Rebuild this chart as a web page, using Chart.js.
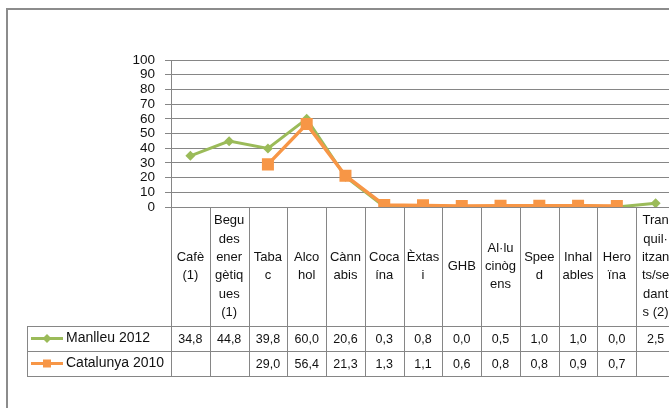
<!DOCTYPE html>
<html>
<head>
<meta charset="utf-8">
<script src="https://cdn.jsdelivr.net/npm/chart.js@4"></script>
<style>
  html, body { margin: 0; padding: 0; background: #fff; overflow: hidden; }
  #wrap { position: relative; width: 669px; height: 408px; overflow: hidden; }
  canvas { position: absolute; left: 0; top: 0; }
</style>
</head>
<body>
<div id="wrap"><canvas id="myChart" width="720" height="408"></canvas></div>
<script>
// category labels, already wrapped like in the table header
const categories = [
    ['Cafè', '(1)'],
    ['Begu', 'des', 'ener', 'gètiq', 'ues', '(1)'],
    ['Taba', 'c'],
    ['Alco', 'hol'],
    ['Cànn', 'abis'],
    ['Coca', 'ína'],
    ['Èxtas', 'i'],
    ['GHB'],
    ['Al·lu', 'cinòg', 'ens'],
    ['Spee', 'd'],
    ['Inhal', 'ables'],
    ['Hero', 'ïna'],
    ['Tran', 'quil·', 'itzan', 'ts/se', 'dant', 's (2)']
];
const manlleu2012 = [34.8, 44.8, 39.8, 60.0, 20.6, 0.3, 0.8, 0.0, 0.5, 1.0, 1.0, 0.0, 2.5];
const catalunya2010 = [null, null, 29.0, 56.4, 21.3, 1.3, 1.1, 0.6, 0.8, 0.8, 0.9, 0.7, null];
const yTicks = [0, 10, 20, 30, 40, 50, 60, 70, 80, 90, 100];

const seriesNames = ['Manlleu 2012', 'Catalunya 2010'];
const green = '#9BBB59';
const orange = '#F79646';
const gridGray = '#868686';
const FONT = '"Liberation Sans", Arial, sans-serif';

function fmt(v) {
    return v === null ? '' : v.toFixed(1).replace('.', ',');
}

// draws the outer frame + the data table under the plot
const tablePlugin = {
    id: 'dataTable',
    beforeDraw(chart) {
        const ctx = chart.ctx;
        ctx.save();
        ctx.strokeStyle = '#8c8c8c';
        ctx.lineWidth = 2;
        ctx.strokeRect(7, 9, 1000, 1000);
        ctx.restore();
    },
    afterDraw(chart) {
        const ctx = chart.ctx;
        const area = chart.chartArea;
        const x = chart.scales.x;
        const n = categories.length;
        const colW = (area.right - area.left) / n;
        const top = area.bottom;
        const headBottom = 326;
        const row1 = 351;
        const row2 = 376;
        const legLeft = 27;

        ctx.save();
        ctx.strokeStyle = gridGray;
        ctx.lineWidth = 1;
        ctx.beginPath();
        // vertical lines
        for (let i = 0; i <= n; i++) {
            const px = Math.round(area.left + i * colW) + 0.5;
            ctx.moveTo(px, i === 0 ? area.top : top);
            ctx.lineTo(px, row2);
        }
        ctx.moveTo(legLeft + 0.5, headBottom);
        ctx.lineTo(legLeft + 0.5, row2);
        // horizontal lines
        [headBottom, row1, row2].forEach(y => {
            ctx.moveTo(legLeft, y + 0.5);
            ctx.lineTo(area.right + 40, y + 0.5);
        });
        ctx.stroke();

        ctx.fillStyle = '#111';
        ctx.textAlign = 'center';
        ctx.textBaseline = 'middle';

        // header labels
        ctx.font = '13px ' + FONT;
        const lh = 18.3;
        categories.forEach((lines, i) => {
            const cx = x.getPixelForValue(i);
            const mid = (top + headBottom) / 2;
            const y0 = mid - (lines.length - 1) * lh / 2;
            lines.forEach((t, j) => ctx.fillText(t, cx, y0 + j * lh));
        });

        // values
        ctx.font = '12.5px ' + FONT;
        const rows = [manlleu2012, catalunya2010];
        const rowMid = [(headBottom + row1) / 2 + 1, (row1 + row2) / 2 + 1];
        rows.forEach((vals, r) => {
            vals.forEach((v, i) => {
                ctx.fillText(fmt(v), x.getPixelForValue(i), rowMid[r]);
            });
        });

        // legend keys
        const colors = [green, orange];
        rows.forEach((vals, r) => {
            const y = rowMid[r] - 1;
            ctx.strokeStyle = colors[r];
            ctx.lineWidth = 3;
            ctx.beginPath();
            ctx.moveTo(31, y);
            ctx.lineTo(63, y);
            ctx.stroke();
            ctx.fillStyle = colors[r];
            if (r === 0) {
                ctx.beginPath();
                ctx.moveTo(47, y - 4.5);
                ctx.lineTo(51.5, y);
                ctx.lineTo(47, y + 4.5);
                ctx.lineTo(42.5, y);
                ctx.closePath();
                ctx.fill();
            } else {
                ctx.fillRect(43, y - 4, 8, 8);
            }
            ctx.fillStyle = '#111';
            ctx.textAlign = 'left';
            ctx.font = '14px ' + FONT;
            ctx.fillText(seriesNames[r], 66, y);
        });
        ctx.restore();
    }
};

const canvas = document.getElementById('myChart');
const myChart = new Chart(canvas, {
    type: 'line',
    data: {
        labels: categories.map(c => c.join('')),
        datasets: [{
            label: seriesNames[0],
            data: manlleu2012,
            borderColor: green,
            backgroundColor: green,
            borderWidth: 3,
            pointStyle: 'rectRot',
            pointRadius: 5,
            pointBorderWidth: 0,
            tension: 0,
            order: 1
        }, {
            label: seriesNames[1],
            data: catalunya2010,
            borderColor: orange,
            backgroundColor: orange,
            borderWidth: 3.5,
            pointStyle: 'rect',
            pointRadius: 8.5,
            pointBorderWidth: 0,
            tension: 0,
            order: 0
        }]
    },
    options: {
        responsive: false,
        animation: false,
        layout: { padding: { left: 0, top: 60, right: 45, bottom: 201 } },
        plugins: {
            legend: { display: false },
            tooltip: { enabled: false }
        },
        scales: {
            x: {
                display: false,
                offset: true
            },
            y: {
                min: 0,
                max: 100,
                afterFit: s => { s.width = 171; },
                afterBuildTicks: s => { s.ticks = yTicks.map(v => ({ value: v })); },
                grid: { color: gridGray, tickLength: 6, lineWidth: 1 },
                border: { color: gridGray },
                ticks: {
                    autoSkip: false,
                    padding: 10,
                    color: '#111',
                    font: { family: FONT, size: 13.5, lineHeight: 1 }
                }
            }
        }
    },
    plugins: [tablePlugin]
});
myChart.update();
</script>
</body>
</html>
